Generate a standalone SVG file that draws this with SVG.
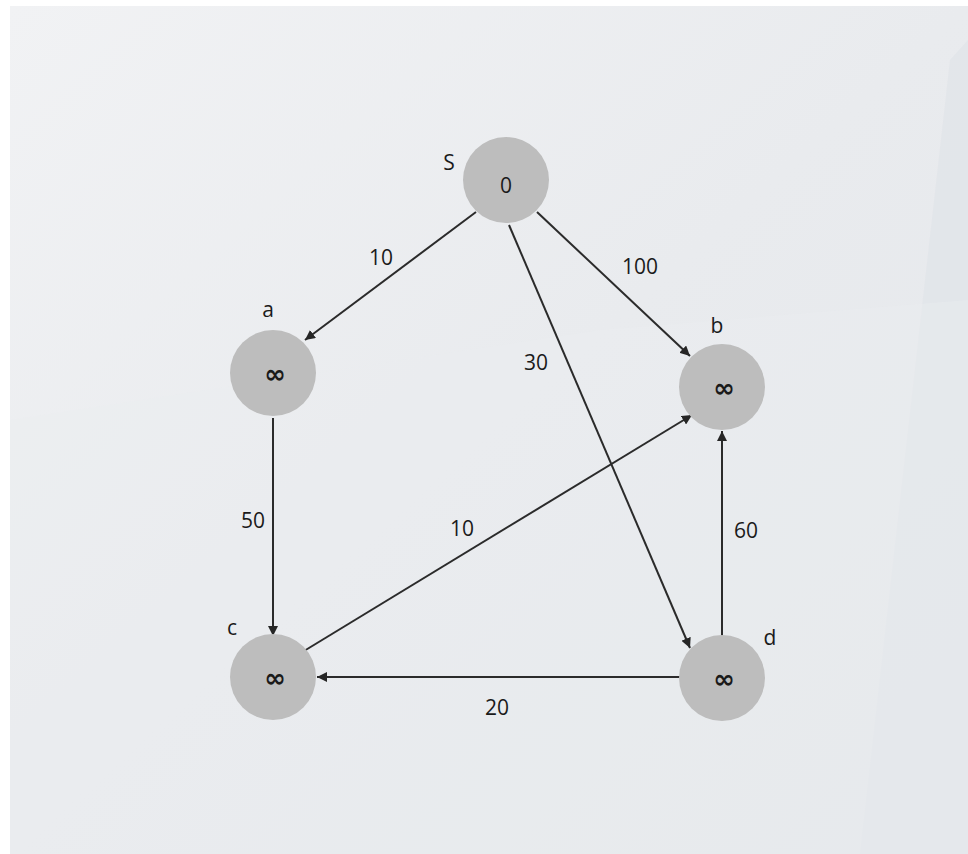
<svg xmlns="http://www.w3.org/2000/svg" width="968" height="854" viewBox="0 0 968 854">
<defs>
<linearGradient id="bg" x1="0" y1="0" x2="1" y2="1">
<stop offset="0" stop-color="#f1f2f4"/>
<stop offset="0.5" stop-color="#e9ebee"/>
<stop offset="1" stop-color="#e4e7eb"/>
</linearGradient>
<marker id="arr" viewBox="0 0 10 10" refX="10" refY="5" markerWidth="5" markerHeight="5" orient="auto" markerUnits="strokeWidth">
<path d="M0,0 L10,5 L0,10 z" fill="#262626"/>
</marker>
<style>
.node{fill:#bdbdbd}
.edge{stroke:#2b2b2b;stroke-width:2;fill:none;marker-end:url(#arr)}
.t{font-family:"Open Sans","Liberation Sans",sans-serif;font-size:21px;fill:#1a1a1a;text-anchor:middle}
.z{font-family:"Open Sans","Liberation Sans",sans-serif;font-size:21px;fill:#1a1a1a;text-anchor:middle}
.v{font-family:"DejaVu Sans","Liberation Sans",sans-serif;font-size:26px;font-weight:bold;fill:#1a1a1a;text-anchor:middle}
</style>
</defs>
<rect width="968" height="854" fill="#ffffff"/>
<rect x="10" y="6" width="958" height="848" fill="url(#bg)"/>
<polygon points="968,40 950,60 860,854 968,854" fill="#e0e4e8" opacity="0.7"/>
<polygon points="10,420 600,330 968,300 968,854 10,854" fill="#ebedf0" opacity="0.4"/>
<g id="connectors">
<line class="edge" x1="476" y1="212" x2="305" y2="340"/>
<line class="edge" x1="537" y1="212" x2="690" y2="356"/>
<line class="edge" x1="509" y1="225" x2="690" y2="648"/>
<line class="edge" x1="273" y1="418" x2="273" y2="636"/>
<line class="edge" x1="304" y1="651" x2="692" y2="415"/>
<line class="edge" x1="722" y1="636" x2="722" y2="431"/>
<line class="edge" x1="680" y1="677" x2="317" y2="677"/>
</g>
<g id="edge-labels">
<text class="t" x="381" y="265">10</text>
<text class="t" x="640" y="274">100</text>
<text class="t" x="536" y="370">30</text>
<text class="t" x="253" y="528">50</text>
<text class="t" x="462" y="536">10</text>
<text class="t" x="746" y="538">60</text>
<text class="t" x="497" y="715">20</text>
</g>
<g id="node-S">
<circle class="node" cx="506" cy="180" r="43"/>
<text class="z" x="506" y="193">0</text>
<text class="t" x="449" y="170">S</text>
</g>
<g id="node-a">
<circle class="node" cx="273" cy="373" r="43"/>
<text class="v" x="275" y="383">∞</text>
<text class="t" x="268" y="317">a</text>
</g>
<g id="node-b">
<circle class="node" cx="722" cy="387" r="43"/>
<text class="v" x="724" y="397">∞</text>
<text class="t" x="717" y="333">b</text>
</g>
<g id="node-c">
<circle class="node" cx="273" cy="677" r="43"/>
<text class="v" x="275" y="687">∞</text>
<text class="t" x="232" y="635">c</text>
</g>
<g id="node-d">
<circle class="node" cx="722" cy="678" r="43"/>
<text class="v" x="724" y="688">∞</text>
<text class="t" x="770" y="645">d</text>
</g>
</svg>
